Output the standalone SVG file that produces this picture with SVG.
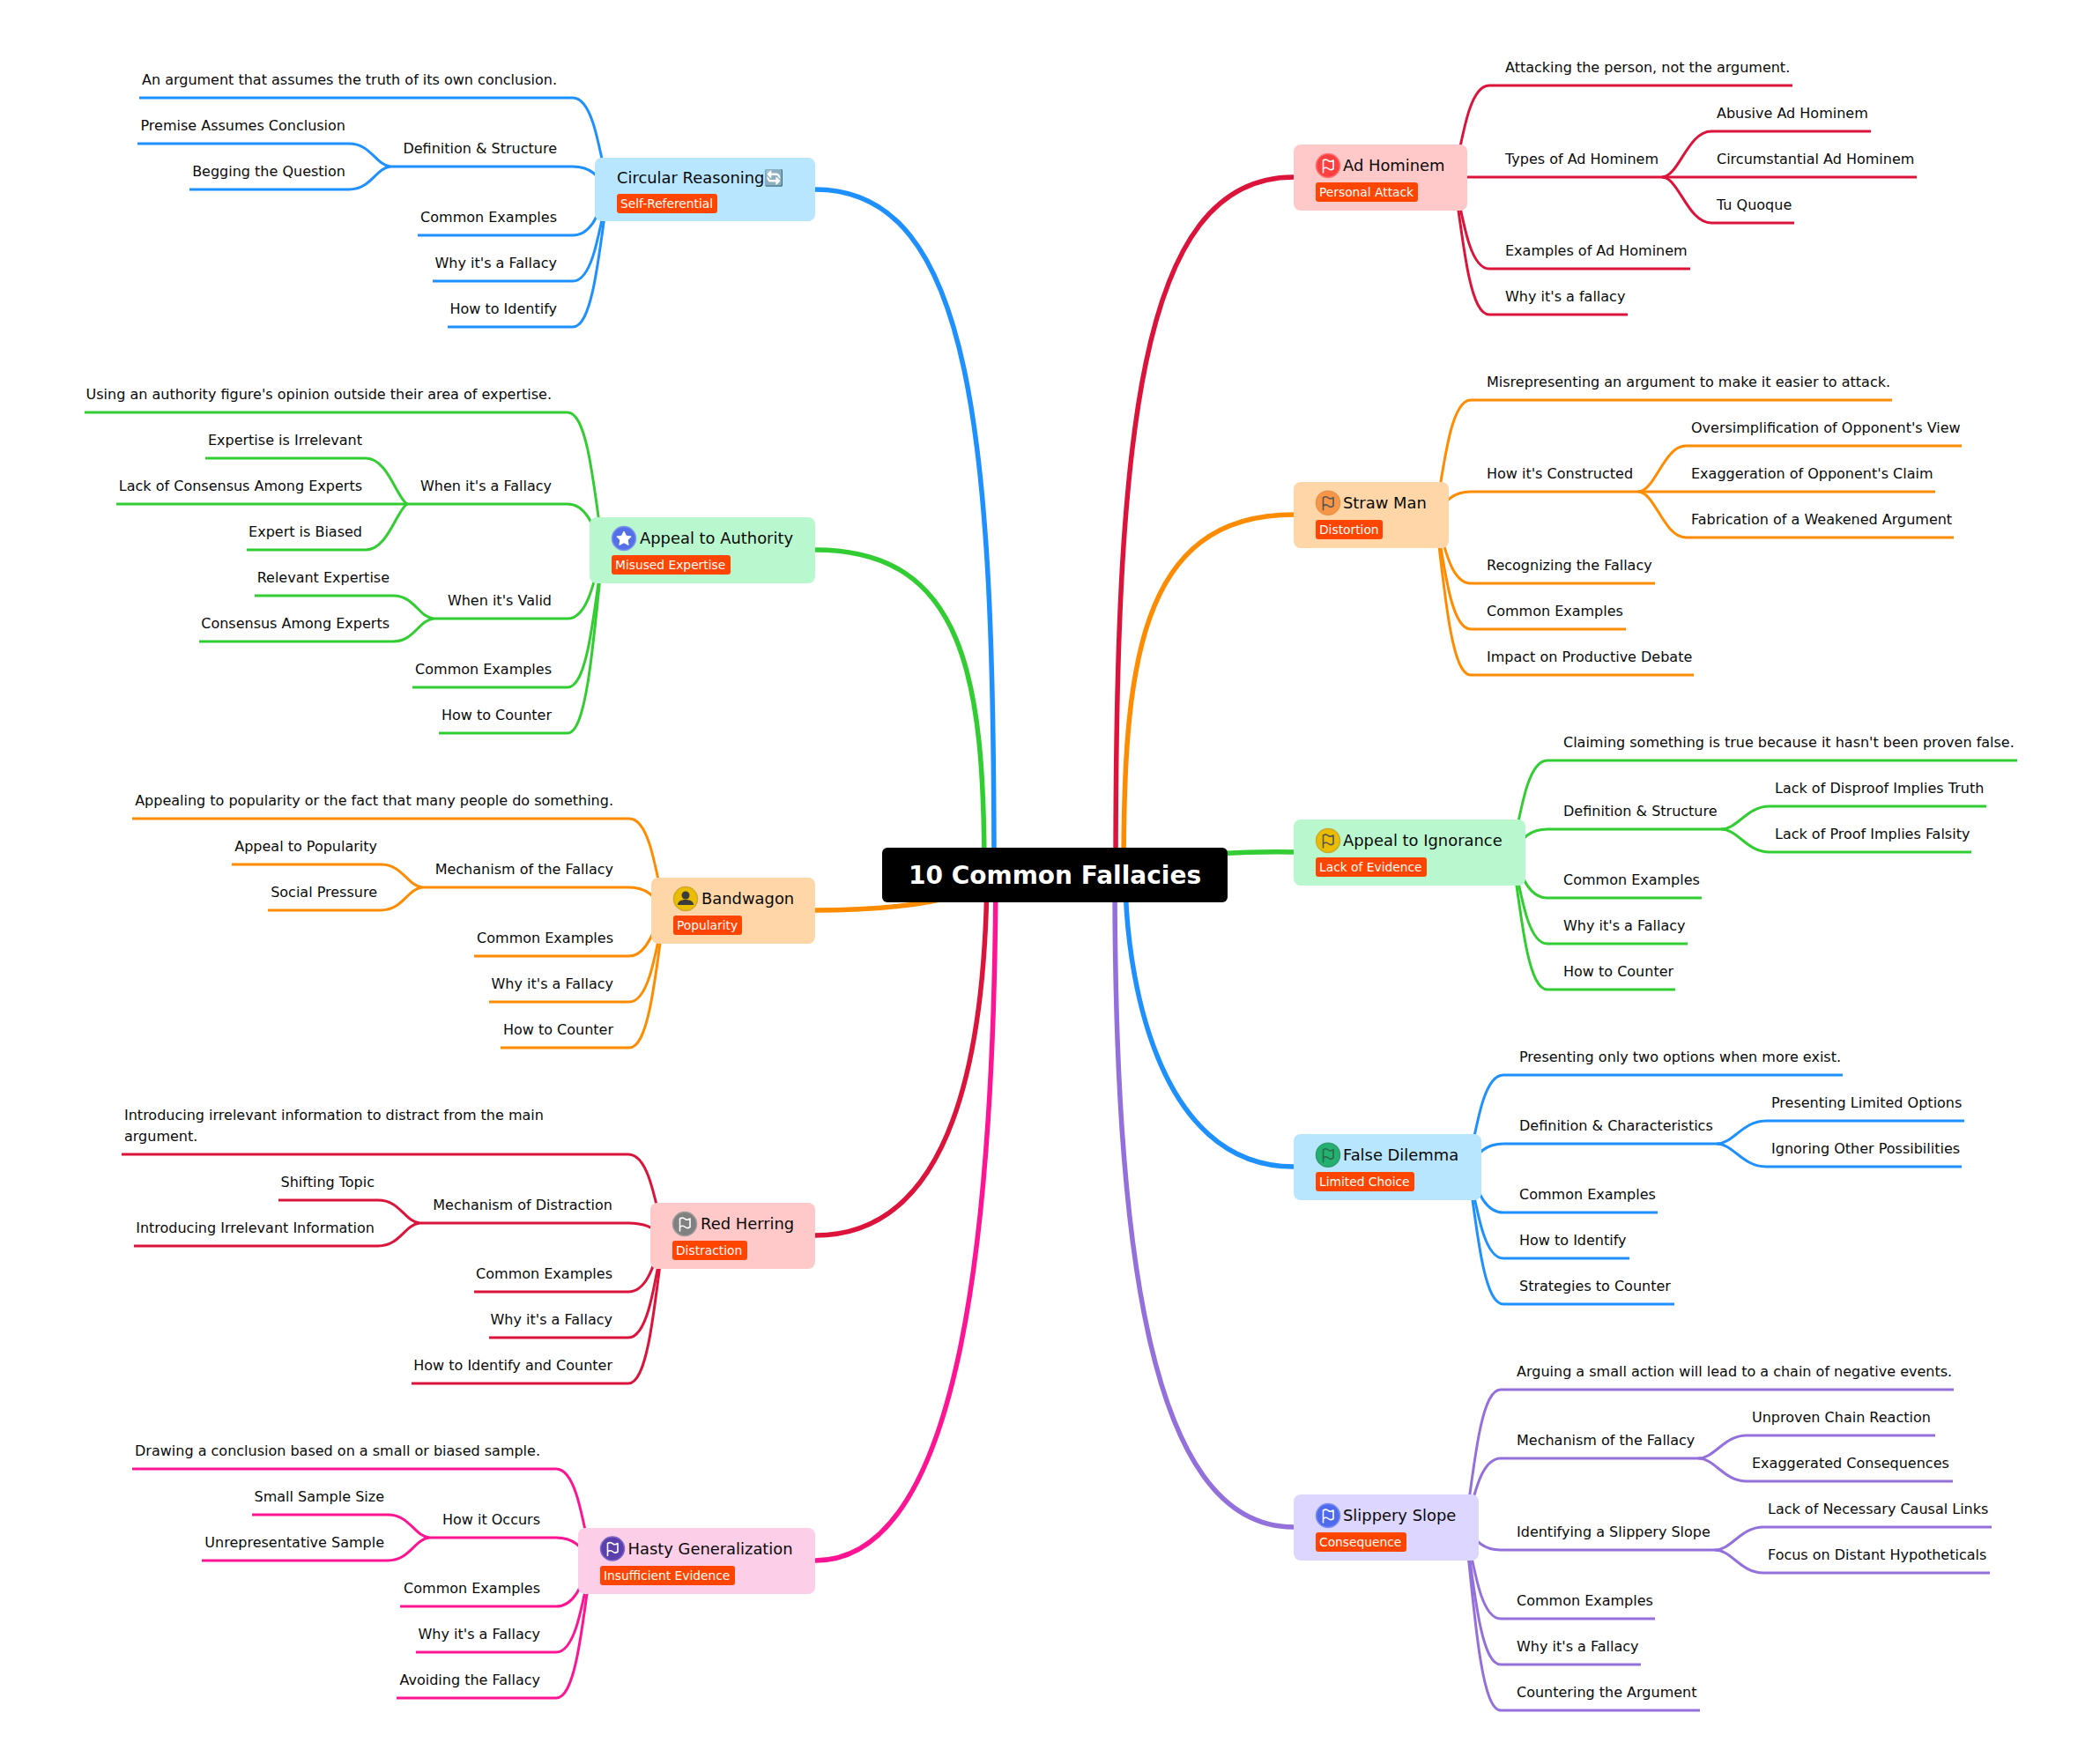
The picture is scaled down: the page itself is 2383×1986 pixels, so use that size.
<svg xmlns="http://www.w3.org/2000/svg" xmlns:xlink="http://www.w3.org/1999/xlink" width="2383" height="1986" viewBox="0 0 2383 1986">
<style>
text{font-family:"DejaVu Sans","Liberation Sans",sans-serif;fill:#0a0a0a}
.l{font-size:16px}
.e{text-anchor:end}
.t{font-size:17.9px}
.g{font-size:13.8px;fill:#fff}
.r{rx:3px;fill:#ff4500}
.n{rx:8px}
.c path{fill:none;stroke-linecap:butt;stroke-width:3}
.c .m{stroke-width:5.5}
.fl{fill:none;stroke-width:1.6;stroke-linejoin:round;stroke-linecap:round}
.blue path{stroke:#1e90ff}.green path{stroke:#32cd32}.orange path{stroke:#ff8c00}.red path{stroke:#dc143c}.pink path{stroke:#ff1493}.purple path{stroke:#9370db}
</style>
<defs>
<path id="flag" d="M-5.5 8V-6M-5.5 -6C-3 -7.5 -1 -7 .5 -5.5C2 -4.5 4 -4.5 6 -6V3.5C4 5 2 5 .5 3.5C-1 2 -3.5 2 -5.5 3.5"/>
</defs>
<rect width="2383" height="1986" fill="#fff"/>
<g id="connectors" class="c">
<g class="blue">
<path class="m" d="M1128 993C1128 500 1105 215 925 215"/>
<path d="M690 215C678 153 670 111 650 111H158"/>
<path d="M690 215C678 199 670 189 650 189H443"/>
<path d="M443 189C426 187 421 163 396 163H156"/>
<path d="M443 189C426 191 421 215 396 215H215"/>
<path d="M690 215C678 246 670 267 650 267H474"/>
<path d="M690 215C678 277 670 319 650 319H491"/>
<path d="M690 215C678 309 670 371 650 371H508"/>
<path class="m" d="M1277 993C1277 1100 1310 1324 1468 1324"/>
<path d="M1666 1324C1678 1262 1686 1220 1706 1220H2091"/>
<path d="M1666 1324C1678 1308 1686 1298 1706 1298H1948"/>
<path d="M1948 1298C1967 1298 1977 1272 2004 1272H2229"/>
<path d="M1948 1298C1967 1298 1977 1324 2004 1324H2226"/>
<path d="M1666 1324C1678 1355 1686 1376 1706 1376H1881"/>
<path d="M1666 1324C1678 1386 1686 1428 1706 1428H1849"/>
<path d="M1666 1324C1678 1418 1686 1480 1706 1480H1900"/>
</g>
<g class="green">
<path class="m" d="M1117 993C1117 770 1095 624 925 624"/>
<path d="M684 624C672 530 664 468 644 468H96"/>
<path d="M684 624C672 593 664 572 644 572H462"/>
<path d="M462 572C450 565 440 520 415 520H233"/>
<path d="M462 572H132"/>
<path d="M462 572C450 579 440 624 415 624H280"/>
<path d="M684 624C672 671 664 702 644 702H492"/>
<path d="M492 702C475 700 470 676 446 676H289"/>
<path d="M492 702C475 704 470 728 446 728H226"/>
<path d="M684 624C672 718 664 780 644 780H468"/>
<path d="M684 624C672 749 664 832 644 832H498"/>
<path class="m" d="M1380 969Q1430 966 1468 967"/>
<path d="M1716 967C1728 905 1736 863 1756 863H2289"/>
<path d="M1716 967C1728 951 1736 941 1756 941H1953"/>
<path d="M1953 941C1972 941 1982 915 2008 915H2254"/>
<path d="M1953 941C1972 941 1982 967 2008 967H2237"/>
<path d="M1716 967C1728 998 1736 1019 1756 1019H1931"/>
<path d="M1716 967C1728 1029 1736 1071 1756 1071H1915"/>
<path d="M1716 967C1728 1061 1736 1123 1756 1123H1901"/>
</g>
<g class="orange">
<path class="m" d="M925 1033C980 1033 1040 1030 1090 1015"/>
<path d="M754 1033C742 971 734 929 714 929H150"/>
<path d="M754 1033C742 1017 734 1007 714 1007H479"/>
<path d="M479 1007C462 1005 457 981 432 981H263"/>
<path d="M479 1007C462 1009 457 1033 432 1033H304"/>
<path d="M754 1033C742 1054 734 1085 714 1085H538"/>
<path d="M754 1033C742 1095 734 1137 714 1137H555"/>
<path d="M754 1033C742 1127 734 1189 714 1189H568"/>
<path class="m" d="M1275 993C1275 760 1290 584 1468 584"/>
<path d="M1629 584C1641 506 1649 454 1669 454H2147"/>
<path d="M1629 584C1641 568 1649 558 1669 558H1859"/>
<path d="M1859 558C1878 558 1888 506 1913 506H2226"/>
<path d="M1859 558H2196"/>
<path d="M1859 558C1878 558 1888 610 1913 610H2217"/>
<path d="M1629 584C1641 631 1649 662 1669 662H1878"/>
<path d="M1629 584C1641 662 1649 714 1669 714H1845"/>
<path d="M1629 584C1641 693 1649 766 1669 766H1922"/>
</g>
<g class="red">
<path class="m" d="M1120 993C1118 1200 1080 1402 925 1402"/>
<path d="M753 1402C741 1347 733 1310 713 1310H138"/>
<path d="M753 1402C741 1394 733 1388 713 1388H476"/>
<path d="M476 1388C459 1386 454 1362 429 1362H316"/>
<path d="M476 1388C459 1390 454 1414 429 1414H152"/>
<path d="M753 1402C741 1440 733 1466 713 1466H538"/>
<path d="M753 1402C741 1472 733 1518 713 1518H555"/>
<path d="M753 1402C741 1503 733 1570 713 1570H467"/>
<path class="m" d="M1266 993C1266 500 1290 201 1468 201"/>
<path d="M1650 201C1662 139 1670 97 1690 97H2034"/>
<path d="M1650 201H1886"/>
<path d="M1886 201C1905 201 1915 149 1942 149H2123"/>
<path d="M1886 201H2175"/>
<path d="M1886 201C1905 201 1915 253 1942 253H2036"/>
<path d="M1650 201C1662 263 1670 305 1690 305H1918"/>
<path d="M1650 201C1662 295 1670 357 1690 357H1847"/>
</g>
<g class="pink">
<path class="m" d="M1130 993C1128 1400 1090 1771 925 1771"/>
<path d="M671 1771C659 1709 651 1667 631 1667H150"/>
<path d="M671 1771C659 1755 651 1745 631 1745H487"/>
<path d="M487 1745C470 1743 465 1719 440 1719H286"/>
<path d="M487 1745C470 1747 465 1771 440 1771H229"/>
<path d="M671 1771C659 1802 651 1823 631 1823H454"/>
<path d="M671 1771C659 1833 651 1875 631 1875H472"/>
<path d="M671 1771C659 1865 651 1927 631 1927H450"/>
</g>
<g class="purple">
<path class="m" d="M1265 993C1265 1400 1300 1733 1468 1733"/>
<path d="M1663 1733C1675 1639 1683 1577 1703 1577H2217"/>
<path d="M1663 1733C1675 1686 1683 1655 1703 1655H1927"/>
<path d="M1927 1655C1946 1655 1956 1629 1982 1629H2196"/>
<path d="M1927 1655C1946 1655 1956 1681 1982 1681H2216"/>
<path d="M1663 1733C1675 1749 1683 1759 1703 1759H1946"/>
<path d="M1946 1759C1965 1759 1975 1733 2001 1733H2260"/>
<path d="M1946 1759C1965 1759 1975 1785 2001 1785H2258"/>
<path d="M1663 1733C1675 1795 1683 1837 1703 1837H1878"/>
<path d="M1663 1733C1675 1827 1683 1889 1703 1889H1862"/>
<path d="M1663 1733C1675 1858 1683 1941 1703 1941H1929"/>
</g>
</g>
<g id="root"><rect x="1001" y="962" width="392" height="62" rx="6" fill="#000"/><text x="1197" y="1002.5" text-anchor="middle" font-size="28" font-weight="700" style="fill:#fff">10 Common Fallacies</text></g>

<g id="circular"><rect class="n" x="675" y="179" width="250" height="72" fill="#b8e6fe"/><text class="t" x="700" y="208">Circular Reasoning🔄</text><rect class="r" x="700" y="220" width="114" height="22"/><text class="g" x="704" y="236">Self-Referential</text></g>
<g id="authority"><rect class="n" x="669" y="587" width="256" height="75" fill="#b9f8cf"/><circle cx="708" cy="611" r="13.5" fill="#5470e8" stroke="#7f93ee" stroke-width="1.5"/><path d="M708 603l2.6 5.2 5.6.8-4 3.9 1 5.6-5.2-2.7-5.2 2.7 1-5.6-4-3.9 5.6-.8z" fill="#fff" stroke="#fff" stroke-linejoin="round"/><text class="t" x="726" y="617">Appeal to Authority</text><rect class="r" x="694" y="630" width="135" height="22"/><text class="g" x="698" y="646">Misused Expertise</text></g>
<g id="bandwagon"><rect class="n" x="739" y="996" width="186" height="75" fill="#ffd6a7"/><circle cx="778" cy="1020" r="13.5" fill="#ebbd00" stroke="#cfa92a" stroke-width="1.5"/><circle cx="778" cy="1016" r="4.5" fill="#3c3c3c"/><path d="M769 1027c0-4 4-6 9-6s9 2 9 6z" fill="#3c3c3c"/><text class="t" x="796" y="1026">Bandwagon</text><rect class="r" x="764" y="1039" width="78" height="22"/><text class="g" x="768" y="1055">Popularity</text></g>
<g id="red-herring"><rect class="n" x="738" y="1365" width="187" height="75" fill="#ffc9c9"/><circle cx="777" cy="1389" r="13.5" fill="#808080" stroke="#9a9a9a" stroke-width="1.5"/><use href="#flag" x="777" y="1389" class="fl" stroke="#fff"/><text class="t" x="795" y="1395">Red Herring</text><rect class="r" x="763" y="1408" width="85" height="22"/><text class="g" x="767" y="1424">Distraction</text></g>
<g id="hasty"><rect class="n" x="656" y="1734" width="269" height="75" fill="#fccee8"/><circle cx="695" cy="1757.500" r="13.500" fill="#5b3fae" stroke="#7c68c4" stroke-width="1.500"/><use href="#flag" x="695" y="1757.500" class="fl" stroke="#fff"/><text class="t" x="712.500" y="1764">Hasty Generalization</text><rect class="r" x="681" y="1777" width="153" height="22"/><text class="g" x="685" y="1793">Insufficient Evidence</text></g>

<g id="ad-hominem"><rect class="n" x="1468" y="164" width="197" height="75" fill="#ffc9c9"/><circle cx="1507" cy="188" r="13.5" fill="#ff4040" stroke="#ff7070" stroke-width="1.5"/><use href="#flag" x="1507" y="188" class="fl" stroke="#fff"/><text class="t" x="1524" y="194">Ad Hominem</text><rect class="r" x="1493" y="207" width="116" height="22"/><text class="g" x="1497" y="223">Personal Attack</text></g>
<g id="straw-man"><rect class="n" x="1468" y="547" width="176" height="75" fill="#ffd6a7"/><circle cx="1507" cy="570.700" r="13.500" fill="#f79646" stroke="#e9924b" stroke-width="1.500"/><use href="#flag" x="1507" y="570.700" class="fl" stroke="#555"/><text class="t" x="1524" y="577">Straw Man</text><rect class="r" x="1493" y="590" width="76" height="22"/><text class="g" x="1497" y="606">Distortion</text></g>
<g id="ignorance"><rect class="n" x="1468" y="930" width="263" height="75" fill="#b9f8cf"/><circle cx="1507" cy="954" r="13.5" fill="#ebbd00" stroke="#cfa92a" stroke-width="1.5"/><use href="#flag" x="1507" y="954" class="fl" stroke="#555"/><text class="t" x="1524" y="960">Appeal to Ignorance</text><rect class="r" x="1493" y="973" width="126" height="22"/><text class="g" x="1497" y="989">Lack of Evidence</text></g>
<g id="false-dilemma"><rect class="n" x="1468" y="1287" width="213" height="75" fill="#b8e6fe"/><circle cx="1507" cy="1310.700" r="13.500" fill="#24b070" stroke="#2f9e6a" stroke-width="1.500"/><use href="#flag" x="1507" y="1310.700" class="fl" stroke="#2a6b4a"/><text class="t" x="1524" y="1317">False Dilemma</text><rect class="r" x="1493" y="1330" width="112" height="22"/><text class="g" x="1497" y="1346">Limited Choice</text></g>
<g id="slippery"><rect class="n" x="1468" y="1696" width="210" height="75" fill="#ddd6ff"/><circle cx="1507" cy="1720" r="13.5" fill="#4f6bed" stroke="#7a8ff1" stroke-width="1.5"/><use href="#flag" x="1507" y="1720" class="fl" stroke="#fff"/><text class="t" x="1524" y="1726">Slippery Slope</text><rect class="r" x="1493" y="1739" width="103" height="22"/><text class="g" x="1497" y="1755">Consequence</text></g>

<g id="l-circ"><text class="l e" x="632" y="96">An argument that assumes the truth of its own conclusion.</text><text class="l e" x="632" y="174">Definition &amp; Structure</text><text class="l e" x="392" y="148">Premise Assumes Conclusion</text><text class="l e" x="392" y="200">Begging the Question</text><text class="l e" x="632" y="252">Common Examples</text><text class="l e" x="632" y="304">Why it's a Fallacy</text><text class="l e" x="632" y="356">How to Identify</text></g>
<g id="l-auth"><text class="l e" x="626" y="453">Using an authority figure's opinion outside their area of expertise.</text><text class="l e" x="626" y="557">When it's a Fallacy</text><text class="l e" x="411" y="505">Expertise is Irrelevant</text><text class="l e" x="411" y="557">Lack of Consensus Among Experts</text><text class="l e" x="411" y="609">Expert is Biased</text><text class="l e" x="626" y="687">When it's Valid</text><text class="l e" x="442" y="661">Relevant Expertise</text><text class="l e" x="442" y="713">Consensus Among Experts</text><text class="l e" x="626" y="765">Common Examples</text><text class="l e" x="626" y="817">How to Counter</text></g>
<g id="l-band"><text class="l e" x="696" y="914">Appealing to popularity or the fact that many people do something.</text><text class="l e" x="696" y="992">Mechanism of the Fallacy</text><text class="l e" x="428" y="966">Appeal to Popularity</text><text class="l e" x="428" y="1018">Social Pressure</text><text class="l e" x="696" y="1070">Common Examples</text><text class="l e" x="696" y="1122">Why it's a Fallacy</text><text class="l e" x="696" y="1174">How to Counter</text></g>
<g id="l-red"><text class="l" x="141" y="1271">Introducing irrelevant information to distract from the main</text><text class="l" x="141" y="1295">argument.</text><text class="l e" x="695" y="1373">Mechanism of Distraction</text><text class="l e" x="425" y="1347">Shifting Topic</text><text class="l e" x="425" y="1399">Introducing Irrelevant Information</text><text class="l e" x="695" y="1451">Common Examples</text><text class="l e" x="695" y="1503">Why it's a Fallacy</text><text class="l e" x="695" y="1555">How to Identify and Counter</text></g>
<g id="l-hasty"><text class="l e" x="613" y="1652">Drawing a conclusion based on a small or biased sample.</text><text class="l e" x="613" y="1730">How it Occurs</text><text class="l e" x="436" y="1704">Small Sample Size</text><text class="l e" x="436" y="1756">Unrepresentative Sample</text><text class="l e" x="613" y="1808">Common Examples</text><text class="l e" x="613" y="1860">Why it's a Fallacy</text><text class="l e" x="613" y="1912">Avoiding the Fallacy</text></g>

<g id="l-ad"><text class="l" x="1708" y="82">Attacking the person, not the argument.</text><text class="l" x="1708" y="186">Types of Ad Hominem</text><text class="l" x="1948" y="134">Abusive Ad Hominem</text><text class="l" x="1948" y="186">Circumstantial Ad Hominem</text><text class="l" x="1948" y="238">Tu Quoque</text><text class="l" x="1708" y="290">Examples of Ad Hominem</text><text class="l" x="1708" y="342">Why it's a fallacy</text></g>
<g id="l-straw"><text class="l" x="1687" y="439">Misrepresenting an argument to make it easier to attack.</text><text class="l" x="1687" y="543">How it's Constructed</text><text class="l" x="1919" y="491">Oversimplification of Opponent's View</text><text class="l" x="1919" y="543">Exaggeration of Opponent's Claim</text><text class="l" x="1919" y="595">Fabrication of a Weakened Argument</text><text class="l" x="1687" y="647">Recognizing the Fallacy</text><text class="l" x="1687" y="699">Common Examples</text><text class="l" x="1687" y="751">Impact on Productive Debate</text></g>
<g id="l-ign"><text class="l" x="1774" y="848">Claiming something is true because it hasn't been proven false.</text><text class="l" x="1774" y="926">Definition &amp; Structure</text><text class="l" x="2014" y="900">Lack of Disproof Implies Truth</text><text class="l" x="2014" y="952">Lack of Proof Implies Falsity</text><text class="l" x="1774" y="1004">Common Examples</text><text class="l" x="1774" y="1056">Why it's a Fallacy</text><text class="l" x="1774" y="1108">How to Counter</text></g>
<g id="l-false"><text class="l" x="1724" y="1205">Presenting only two options when more exist.</text><text class="l" x="1724" y="1283">Definition &amp; Characteristics</text><text class="l" x="2010" y="1257">Presenting Limited Options</text><text class="l" x="2010" y="1309">Ignoring Other Possibilities</text><text class="l" x="1724" y="1361">Common Examples</text><text class="l" x="1724" y="1413">How to Identify</text><text class="l" x="1724" y="1465">Strategies to Counter</text></g>
<g id="l-slip"><text class="l" x="1721" y="1562">Arguing a small action will lead to a chain of negative events.</text><text class="l" x="1721" y="1640">Mechanism of the Fallacy</text><text class="l" x="1988" y="1614">Unproven Chain Reaction</text><text class="l" x="1988" y="1666">Exaggerated Consequences</text><text class="l" x="1721" y="1744">Identifying a Slippery Slope</text><text class="l" x="2006" y="1718">Lack of Necessary Causal Links</text><text class="l" x="2006" y="1770">Focus on Distant Hypotheticals</text><text class="l" x="1721" y="1822">Common Examples</text><text class="l" x="1721" y="1874">Why it's a Fallacy</text><text class="l" x="1721" y="1926">Countering the Argument</text></g>
</svg>
